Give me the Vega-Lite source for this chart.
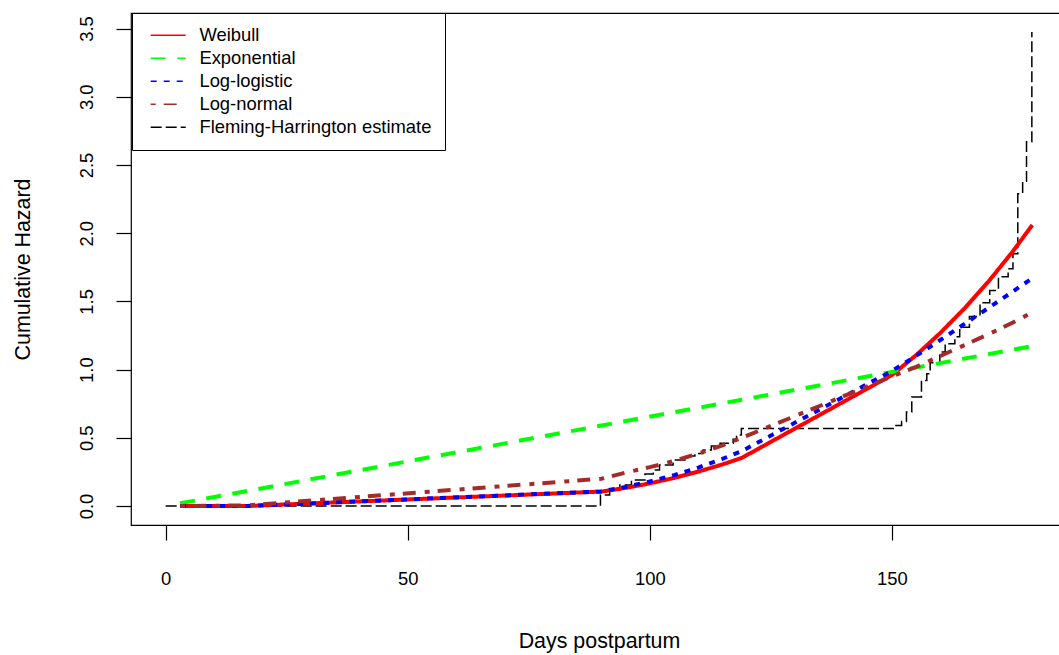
{
  "$schema": "https://vega.github.io/schema/vega-lite/v6.json",
  "width": 936,
  "height": 512,
  "autosize": {"type": "none"},
  "padding": {"left": 131, "top": 13, "right": 0, "bottom": 130},
  "background": "white",
  "config": {
    "font": "Liberation Sans",
    "view": {"stroke": "black", "strokeWidth": 1.2},
    "axis": {
      "grid": false,
      "domain": false,
      "tickColor": "black",
      "tickWidth": 1.2,
      "tickSize": 15,
      "labelColor": "black",
      "labelFontSize": 18.4,
      "labelFont": "Liberation Sans",
      "titleColor": "black",
      "titleFontSize": 21.4,
      "titleFontWeight": "normal",
      "titleFont": "Liberation Sans"
    }
  },
  "data": {
    "values": [
      {"model": "Fleming-Harrington estimate", "t": 0, "H": 0},
      {"model": "Fleming-Harrington estimate", "t": 89.8, "H": 0.08},
      {"model": "Fleming-Harrington estimate", "t": 91.7, "H": 0.117},
      {"model": "Fleming-Harrington estimate", "t": 93.8, "H": 0.154},
      {"model": "Fleming-Harrington estimate", "t": 96.2, "H": 0.19},
      {"model": "Fleming-Harrington estimate", "t": 99, "H": 0.234},
      {"model": "Fleming-Harrington estimate", "t": 100.7, "H": 0.264},
      {"model": "Fleming-Harrington estimate", "t": 102, "H": 0.3},
      {"model": "Fleming-Harrington estimate", "t": 104.8, "H": 0.337},
      {"model": "Fleming-Harrington estimate", "t": 107.6, "H": 0.366},
      {"model": "Fleming-Harrington estimate", "t": 109.3, "H": 0.386},
      {"model": "Fleming-Harrington estimate", "t": 111, "H": 0.41},
      {"model": "Fleming-Harrington estimate", "t": 112.7, "H": 0.44},
      {"model": "Fleming-Harrington estimate", "t": 114.5, "H": 0.46},
      {"model": "Fleming-Harrington estimate", "t": 117.2, "H": 0.49},
      {"model": "Fleming-Harrington estimate", "t": 117.9, "H": 0.52},
      {"model": "Fleming-Harrington estimate", "t": 118.9, "H": 0.569},
      {"model": "Fleming-Harrington estimate", "t": 150.6, "H": 0.59},
      {"model": "Fleming-Harrington estimate", "t": 152, "H": 0.62},
      {"model": "Fleming-Harrington estimate", "t": 153, "H": 0.69},
      {"model": "Fleming-Harrington estimate", "t": 154.1, "H": 0.8},
      {"model": "Fleming-Harrington estimate", "t": 156.1, "H": 0.92},
      {"model": "Fleming-Harrington estimate", "t": 157.2, "H": 0.97},
      {"model": "Fleming-Harrington estimate", "t": 157.9, "H": 1.05},
      {"model": "Fleming-Harrington estimate", "t": 159.9, "H": 1.13},
      {"model": "Fleming-Harrington estimate", "t": 161, "H": 1.19},
      {"model": "Fleming-Harrington estimate", "t": 163, "H": 1.24},
      {"model": "Fleming-Harrington estimate", "t": 164, "H": 1.31},
      {"model": "Fleming-Harrington estimate", "t": 166, "H": 1.39},
      {"model": "Fleming-Harrington estimate", "t": 168.2, "H": 1.49},
      {"model": "Fleming-Harrington estimate", "t": 170.2, "H": 1.58},
      {"model": "Fleming-Harrington estimate", "t": 172, "H": 1.68},
      {"model": "Fleming-Harrington estimate", "t": 174, "H": 1.74},
      {"model": "Fleming-Harrington estimate", "t": 175, "H": 1.85},
      {"model": "Fleming-Harrington estimate", "t": 176, "H": 2.29},
      {"model": "Fleming-Harrington estimate", "t": 177, "H": 2.38},
      {"model": "Fleming-Harrington estimate", "t": 177.8, "H": 2.67},
      {"model": "Fleming-Harrington estimate", "t": 178.9, "H": 3.475},

      {"model": "Weibull", "t": 3, "H": 0},
      {"model": "Weibull", "t": 17, "H": 0.0005},
      {"model": "Weibull", "t": 90, "H": 0.106},
      {"model": "Weibull", "t": 95, "H": 0.133},
      {"model": "Weibull", "t": 100, "H": 0.166},
      {"model": "Weibull", "t": 105, "H": 0.206},
      {"model": "Weibull", "t": 110, "H": 0.252},
      {"model": "Weibull", "t": 115, "H": 0.305},
      {"model": "Weibull", "t": 119, "H": 0.353},
      {"model": "Weibull", "t": 150, "H": 0.96},
      {"model": "Weibull", "t": 155, "H": 1.106},
      {"model": "Weibull", "t": 160, "H": 1.269},
      {"model": "Weibull", "t": 165, "H": 1.449},
      {"model": "Weibull", "t": 170, "H": 1.648},
      {"model": "Weibull", "t": 175, "H": 1.868},
      {"model": "Weibull", "t": 179, "H": 2.06},

      {"model": "Exponential", "t": 3, "H": 0.02},
      {"model": "Exponential", "t": 17, "H": 0.111},
      {"model": "Exponential", "t": 90, "H": 0.59},
      {"model": "Exponential", "t": 119, "H": 0.779},
      {"model": "Exponential", "t": 150, "H": 0.983},
      {"model": "Exponential", "t": 179, "H": 1.172},

      {"model": "Log-logistic", "t": 3, "H": 0},
      {"model": "Log-logistic", "t": 17, "H": 0.0005},
      {"model": "Log-logistic", "t": 90, "H": 0.107},
      {"model": "Log-logistic", "t": 95, "H": 0.14},
      {"model": "Log-logistic", "t": 100, "H": 0.18},
      {"model": "Log-logistic", "t": 105, "H": 0.227},
      {"model": "Log-logistic", "t": 110, "H": 0.282},
      {"model": "Log-logistic", "t": 115, "H": 0.346},
      {"model": "Log-logistic", "t": 119, "H": 0.403},
      {"model": "Log-logistic", "t": 150, "H": 0.99},
      {"model": "Log-logistic", "t": 155, "H": 1.101},
      {"model": "Log-logistic", "t": 160, "H": 1.217},
      {"model": "Log-logistic", "t": 165, "H": 1.335},
      {"model": "Log-logistic", "t": 170, "H": 1.454},
      {"model": "Log-logistic", "t": 175, "H": 1.573},
      {"model": "Log-logistic", "t": 179, "H": 1.67},

      {"model": "Log-normal", "t": 3, "H": 0},
      {"model": "Log-normal", "t": 17, "H": 0.005},
      {"model": "Log-normal", "t": 90, "H": 0.2},
      {"model": "Log-normal", "t": 95, "H": 0.245},
      {"model": "Log-normal", "t": 100, "H": 0.285},
      {"model": "Log-normal", "t": 105, "H": 0.33},
      {"model": "Log-normal", "t": 110, "H": 0.385},
      {"model": "Log-normal", "t": 115, "H": 0.445},
      {"model": "Log-normal", "t": 119, "H": 0.5},
      {"model": "Log-normal", "t": 150, "H": 0.95},
      {"model": "Log-normal", "t": 155, "H": 1.02},
      {"model": "Log-normal", "t": 160, "H": 1.1},
      {"model": "Log-normal", "t": 165, "H": 1.18},
      {"model": "Log-normal", "t": 170, "H": 1.26},
      {"model": "Log-normal", "t": 175, "H": 1.345},
      {"model": "Log-normal", "t": 179, "H": 1.42}
    ]
  },
  "encoding": {
    "x": {
      "field": "t",
      "type": "quantitative",
      "scale": {"domain": [-7.16, 186.16], "nice": false, "zero": false},
      "axis": {
        "title": "Days postpartum",
        "values": [0, 50, 100, 150],
        "labelBaseline": "middle",
        "labelPadding": 38,
        "titleX": 468,
        "titleY": 116.5,
        "titleBaseline": "middle",
        "titleAlign": "center"
      }
    },
    "y": {
      "field": "H",
      "type": "quantitative",
      "scale": {"domain": [-0.139, 3.614], "nice": false, "zero": false},
      "axis": {
        "title": "Cumulative Hazard",
        "values": [0, 0.5, 1, 1.5, 2, 2.5, 3, 3.5],
        "format": ".1f",
        "labelAngle": -90,
        "labelAlign": "center",
        "labelBaseline": "middle",
        "labelPadding": 30,
        "titleX": -108,
        "titleY": 256,
        "titleAngle": -90,
        "titleBaseline": "middle",
        "titleAlign": "center"
      }
    },
    "color": {
      "field": "model",
      "type": "nominal",
      "scale": {
        "domain": ["Weibull", "Exponential", "Log-logistic", "Log-normal", "Fleming-Harrington estimate"],
        "range": ["#FF0000", "#00FF00", "#0000FF", "#A52A2A", "#000000"]
      },
      "legend": {
        "orient": "none",
        "legendX": 1,
        "legendY": 0,
        "title": null,
        "strokeColor": "black",
        "fillColor": "white",
        "padding": 13,
        "symbolType": "M-5,0H5",
        "symbolSize": 49,
        "symbolOffset": 14,
        "symbolStrokeWidth": 1.5,
        "labelOffset": 22,
        "labelLimit": 0,
        "labelFontSize": 18.4,
        "labelColor": "black",
        "labelFont": "Liberation Sans",
        "rowPadding": 4,
        "encode": {
          "symbols": {
            "update": {
              "strokeWidth": {"value": 1.5},
              "strokeDash": {"signal": "datum.value === 'Exponential' ? [7,5] : datum.value === 'Log-logistic' ? [2,4] : datum.value === 'Log-normal' ? [2,4,7,4] : datum.value === 'Fleming-Harrington estimate' ? [17,4,2,4] : [1,0]"}
            }
          }
        }
      }
    },
    "strokeDash": {
      "field": "model",
      "type": "nominal",
      "scale": {
        "domain": ["Weibull", "Exponential", "Log-logistic", "Log-normal", "Fleming-Harrington estimate"],
        "range": [[1, 0], [15, 11.5], [6, 7], [5, 8, 13, 9], [11, 4]]
      },
      "legend": null
    }
  },
  "layer": [
    {
      "transform": [{"filter": "datum.model === 'Fleming-Harrington estimate'"}],
      "mark": {"type": "line", "interpolate": "step-after", "strokeWidth": 1.5}
    },
    {
      "transform": [{"filter": "datum.model === 'Weibull'"}],
      "mark": {"type": "line", "strokeWidth": 4}
    },
    {
      "transform": [{"filter": "datum.model === 'Exponential'"}],
      "mark": {"type": "line", "strokeWidth": 4}
    },
    {
      "transform": [{"filter": "datum.model === 'Log-logistic'"}],
      "mark": {"type": "line", "strokeWidth": 4}
    },
    {
      "transform": [{"filter": "datum.model === 'Log-normal'"}],
      "mark": {"type": "line", "strokeWidth": 4}
    }
  ]
}
